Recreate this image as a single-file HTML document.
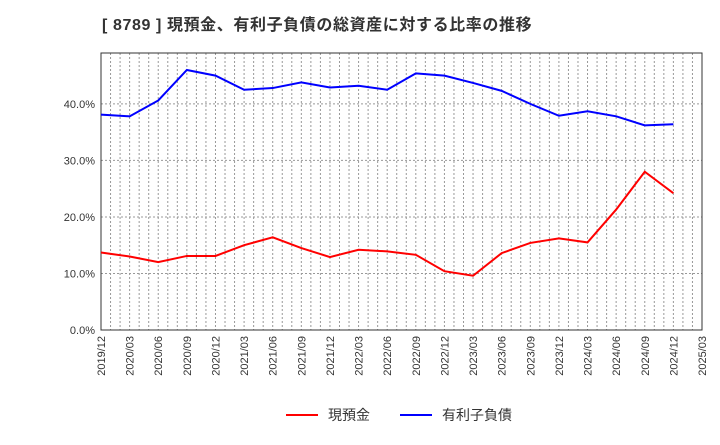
<!DOCTYPE html>
<html><head><meta charset="utf-8"><style>
body{margin:0;background:#fff;font-family:"Liberation Sans","Noto Sans CJK JP",sans-serif;}
</style></head><body>
<svg id="c" width="720" height="440" xmlns="http://www.w3.org/2000/svg">
<text x="102" y="30" font-size="16" font-weight="bold" letter-spacing="0.6" fill="#333" font-family="Liberation Sans, Noto Sans CJK JP, sans-serif">[ 8789 ]  現預金、有利子負債の総資産に対する比率の推移</text>
<g id="grid"></g><g id="axes"></g><g id="series"></g>
<g>
<line x1="286" y1="415" x2="318" y2="415" stroke="#f00" stroke-width="2"/>
<text x="328" y="420" font-size="14" fill="#333">現預金</text>
<line x1="400" y1="415" x2="432" y2="415" stroke="#00f" stroke-width="2"/>
<text x="442" y="420" font-size="14" fill="#333">有利子負債</text>
</g>
</svg>
<script>
const categories=["2019/12","2020/03","2020/06","2020/09","2020/12","2021/03","2021/06","2021/09","2021/12","2022/03","2022/06","2022/09","2022/12","2023/03","2023/06","2023/09","2023/12","2024/03","2024/06","2024/09","2024/12","2025/03"];
const cashValues=[13.7,13.0,12.0,13.1,13.1,15.0,16.4,14.5,12.9,14.2,13.9,13.3,10.4,9.6,13.6,15.4,16.2,15.5,21.3,28.0,24.2];
const debtValues=[38.1,37.8,40.6,46.0,45.0,42.5,42.8,43.8,42.9,43.2,42.5,45.4,45.0,43.7,42.3,40.0,37.9,38.7,37.8,36.2,36.4];
const yTicks=[0,10,20,30,40];
const yTickLabels=["0.0%","10.0%","20.0%","30.0%","40.0%"];
const L=101,R=702,T=53,B=330,YMAX=49;
const NS="http://www.w3.org/2000/svg";
const xq=i=>L+(R-L)*i/(categories.length-1);
const xm=m=>L+(R-L)*m/((categories.length-1)*3);
const y=v=>B-(B-T)*v/YMAX;
function mk(tag,attrs,parent){const e=document.createElementNS(NS,tag);for(const k in attrs)e.setAttribute(k,attrs[k]);document.getElementById(parent).appendChild(e);return e;}
for(let m=1;m<(categories.length-1)*3;m++){
 const e=mk("line",{x1:xm(m),x2:xm(m),y1:T,y2:B,stroke:"#999","stroke-dasharray":"2,2","stroke-width":1},"grid");
 
 
}
yTicks.forEach((v,i)=>{
 if(v>0){const g=mk("line",{x1:L,x2:R,y1:y(v),y2:y(v),stroke:"#999","stroke-dasharray":"2,2"},"grid");
 
 }
 const t=mk("text",{x:L-6,y:y(v)+4,"font-size":11,fill:"#333","text-anchor":"end"},"axes");
 t.textContent=yTickLabels[i];
 
 
});
const box=mk("rect",{x:L,y:T,width:R-L,height:B-T,fill:"none",stroke:"#333"},"axes");


categories.forEach((c,i)=>{
 const t=mk("text",{x:0,y:0,"font-size":11,fill:"#333","text-anchor":"end",transform:`translate(${xq(i)+4},${B+6}) rotate(-90)`},"axes");
 t.textContent=c;
 
 
});
function line(vals,color,name){
 const p=mk("polyline",{points:vals.map((v,i)=>xq(i)+","+y(v)).join(" "),fill:"none",stroke:color,"stroke-width":2},"series");
 
 
}
line(cashValues,"#f00","cash-line");
line(debtValues,"#00f","debt-line");
</script>
</body></html>
